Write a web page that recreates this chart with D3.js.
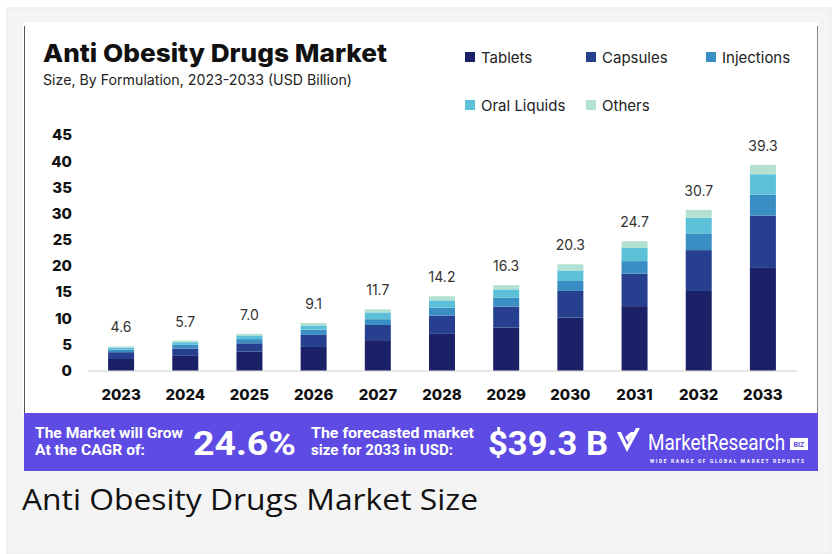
<!DOCTYPE html>
<html>
<head>
<meta charset="utf-8">
<script src="https://cdn.jsdelivr.net/npm/d3@7"></script>
<style>
  body { margin: 0; background: #fff; }
  svg { display: block; }
</style>
</head>
<body>
<script>
// data
var years = ["2023","2024","2025","2026","2027","2028","2029","2030","2031","2032","2033"];
var totals = [4.6, 5.7, 7.0, 9.1, 11.7, 14.2, 16.3, 20.3, 24.7, 30.7, 39.3];
var tablets = [2.2, 2.8, 3.6, 4.5, 5.8, 7.0, 8.2, 10.1, 12.3, 15.2, 19.6];
var capsules = [1.3, 1.4, 1.6, 2.3, 2.9, 3.5, 4.0, 5.1, 6.2, 7.8, 10.0];
var injections = [0.5, 0.7, 0.8, 1.0, 1.1, 1.5, 1.7, 1.9, 2.4, 3.1, 4.0];
var oralLiquids = [0.4, 0.5, 0.7, 0.8, 1.3, 1.4, 1.6, 2.0, 2.5, 3.1, 3.9];
var others = [0.2, 0.3, 0.3, 0.5, 0.6, 0.8, 0.8, 1.2, 1.3, 1.5, 1.8];
var seriesNames = ["Tablets", "Capsules", "Injections", "Oral Liquids", "Others"];
var seriesColors = ["#1b2166", "#26408f", "#3a8ec3", "#5cc0d9", "#b3e1d2"];
var yTicks = [0, 5, 10, 15, 20, 25, 30, 35, 40, 45];

var W = 836, H = 554;
var svg = d3.select("body").append("svg").attr("width", W).attr("height", H);

// page frame
svg.append("rect").attr("x", 7).attr("y", 8).attr("width", 824).attr("height", H - 8)
  .attr("fill", "#f4f4f4").attr("stroke", "#e8e8e8");
svg.append("rect").attr("x", 23).attr("y", 22).attr("width", 795).attr("height", 391)
  .attr("fill", "#fff");
svg.append("line").attr("x1", 24.5).attr("x2", 24.5).attr("y1", 26).attr("y2", 413)
  .attr("stroke", "#555").attr("stroke-width", 1);
svg.append("line").attr("x1", 817.5).attr("x2", 817.5).attr("y1", 26).attr("y2", 413)
  .attr("stroke", "#7a8594").attr("stroke-width", 1);

// titles
svg.append("text").attr("x", 43).attr("y", 62)
  .attr("font-family", "Inter, sans-serif").attr("font-weight", 800).attr("font-size", 25)
  .attr("fill", "#111").attr("textLength", 344).attr("lengthAdjust", "spacingAndGlyphs")
  .text("Anti Obesity Drugs Market");
svg.append("text").attr("x", 43).attr("y", 85)
  .attr("font-family", "Inter, sans-serif").attr("font-size", 14)
  .attr("fill", "#222").attr("textLength", 309).attr("lengthAdjust", "spacingAndGlyphs")
  .text("Size, By Formulation, 2023-2033 (USD Billion)");

// legend
var legendPos = [[465, 57], [586, 57], [706, 57], [465, 105], [586, 105]];
var legend = svg.append("g");
seriesNames.forEach(function(name, i){
  var p = legendPos[i];
  legend.append("rect").attr("x", p[0]).attr("y", p[1] - 5).attr("width", 10).attr("height", 10)
    .attr("fill", seriesColors[i]);
  legend.append("text").attr("x", p[0] + 16).attr("y", p[1] + 5.5)
    .attr("font-family", "Inter, sans-serif").attr("font-size", 15).attr("fill", "#222")
    .text(name);
});

// scales
var x = d3.scaleBand().domain(years).range([89, 795]).padding(0);
var y = d3.scaleLinear().domain([0, 45]).range([370.5, 135]);
var barW = 26;

// axes
svg.append("line").attr("x1", 88).attr("x2", 797).attr("y1", 371).attr("y2", 371)
  .attr("stroke", "#d0d0d0").attr("stroke-width", 1);

svg.append("g").selectAll("text").data(yTicks).enter().append("text")
  .attr("x", 72).attr("y", function(d){ return y(d); }).attr("dy", "0.36em")
  .attr("text-anchor", "end")
  .attr("font-family", "Inter, sans-serif").attr("font-weight", 800).attr("font-size", 15)
  .attr("fill", "#111").text(function(d){ return d; });

svg.append("g").selectAll("text").data(years).enter().append("text")
  .attr("x", function(d){ return x(d) + x.bandwidth()/2; }).attr("y", 400)
  .attr("text-anchor", "middle")
  .attr("font-family", "Inter, sans-serif").attr("font-weight", 800).attr("font-size", 15)
  .attr("fill", "#111").text(function(d){ return d; });

// stacked bars
var rows = years.map(function(yr, i){
  return {year: yr, Tablets: tablets[i], Capsules: capsules[i], Injections: injections[i],
          "Oral Liquids": oralLiquids[i], Others: others[i]};
});
var stacked = d3.stack().keys(seriesNames)(rows);

svg.append("g").selectAll("g").data(stacked).enter().append("g")
  .attr("fill", function(d, i){ return seriesColors[i]; })
  .selectAll("rect").data(function(d){ return d; }).enter().append("rect")
  .attr("x", function(d){ return x(d.data.year) + (x.bandwidth() - barW)/2; })
  .attr("y", function(d){ return y(d[1]); })
  .attr("width", barW)
  .attr("height", function(d){ return y(d[0]) - y(d[1]); });

// value labels
svg.append("g").selectAll("text").data(years).enter().append("text")
  .attr("x", function(d){ return x(d) + x.bandwidth()/2; })
  .attr("y", function(d, i){ return y(totals[i]) - 14; })
  .attr("text-anchor", "middle")
  .attr("font-family", "Inter, sans-serif").attr("font-size", 14).attr("fill", "#333")
  .text(function(d, i){ return totals[i].toFixed(1); });

// bottom banner
var banner = svg.append("g");
banner.append("rect").attr("x", 24).attr("y", 413).attr("width", 794).attr("height", 58)
  .attr("fill", "#5d4be3");
function bText(t, xx, yy, size, weight, len, fam){
  return banner.append("text").attr("x", xx).attr("y", yy)
    .attr("font-family", fam || "Roboto, sans-serif").attr("font-weight", weight)
    .attr("font-size", size).attr("fill", "#fff")
    .attr("textLength", len).attr("lengthAdjust", "spacingAndGlyphs").text(t);
}
bText("The Market will Grow", 35, 438, 14, 700, 148);
bText("At the CAGR of:", 35, 455, 14, 700, 110);
bText("24.6%", 193, 455, 34, 700, 103);
bText("The forecasted market", 311, 438, 14, 700, 163);
bText("size for 2033 in USD:", 311, 455, 14, 700, 142);
bText("$39.3 B", 488, 455, 34, 700, 120);
// logo tick mark
banner.append("path")
  .attr("d", "M617,432 L627,452 L640,428 L636,428 L627,445 L621,432 Z M625,437 L628,442 L634,432 L631,432 Z")
  .attr("fill", "#fff");
// condensed logo word via a horizontal squeeze
banner.append("text").attr("transform", "translate(648,450) scale(0.86,1)")
  .attr("font-family", "Roboto, sans-serif").attr("font-size", 22).attr("fill", "#fff")
  .text("MarketResearch");
banner.append("rect").attr("x", 790).attr("y", 438).attr("width", 18).attr("height", 12)
  .attr("fill", "#fff");
banner.append("text").attr("x", 799).attr("y", 447)
  .attr("text-anchor", "middle")
  .attr("font-family", "Roboto, sans-serif").attr("font-weight", 700).attr("font-size", 7)
  .attr("fill", "#5d4be3").text("BIZ");
banner.append("text").attr("transform", "translate(650,463) scale(0.8,1)")
  .attr("font-family", "Roboto, sans-serif").attr("font-weight", 700).attr("font-size", 6)
  .attr("fill", "#fff").attr("letter-spacing", 2.1)
  .text("WIDE RANGE OF GLOBAL MARKET REPORTS");

// caption
svg.append("text").attr("x", 22).attr("y", 510)
  .attr("font-family", "'Open Sans', sans-serif").attr("font-size", 30).attr("fill", "#111")
  .attr("textLength", 456).attr("lengthAdjust", "spacingAndGlyphs")
  .text("Anti Obesity Drugs Market Size");
</script>
</body>
</html>
